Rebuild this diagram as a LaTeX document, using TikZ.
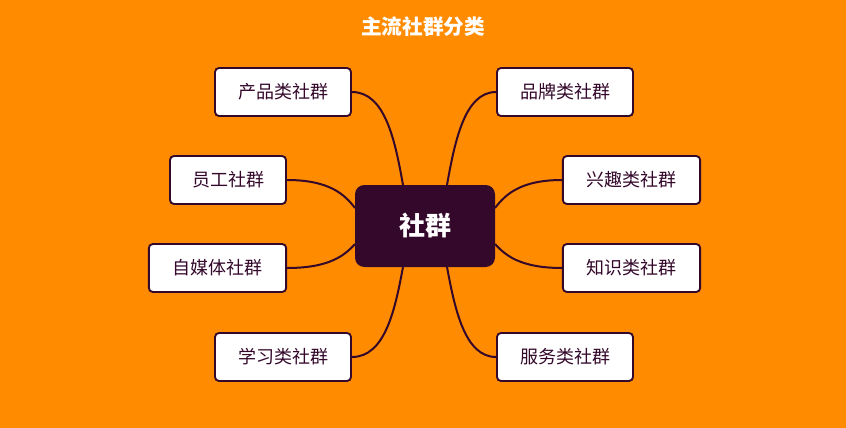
\documentclass[tikz,border=0pt]{standalone}
\usepackage{fontspec}
\setmainfont{Noto Sans CJK SC}
\definecolor{bg}{HTML}{FF8B00}
\definecolor{dk}{HTML}{33082B}
\begin{document}
\begin{tikzpicture}[x=0.75pt,y=-0.75pt,
 leaf/.style={draw=dk,line width=1.4pt,fill=white,rounded corners=3pt,minimum height=36pt,inner sep=0pt,font=\fontsize{13.5pt}{15pt}\selectfont,text=dk},
 link/.style={draw=dk,line width=1.5pt}]
\fill[bg] (0,0) rectangle (846,428);
\node[text=white,font=\bfseries\fontsize{15.5pt}{18pt}\selectfont] (t) at (423,27) {主流社群分类};
\node[fill=dk,rounded corners=7pt,minimum width=105pt,minimum height=61.5pt,text=white,font=\bfseries\fontsize{19.5pt}{22pt}\selectfont] (c) at (425,226) {社群};
\node[leaf,minimum width=102pt] (a1) at (283,92) {产品类社群};
\node[leaf,minimum width=87pt] (a2) at (228,180) {员工社群};
\node[leaf,minimum width=103pt] (a3) at (217.5,268) {自媒体社群};
\node[leaf,minimum width=102pt] (a4) at (283,357) {学习类社群};
\node[leaf,minimum width=102pt] (b1) at (565,92) {品牌类社群};
\node[leaf,minimum width=103pt] (b2) at (631.5,180) {兴趣类社群};
\node[leaf,minimum width=103pt] (b3) at (631.5,268) {知识类社群};
\node[leaf,minimum width=102pt] (b4) at (565,357) {服务类社群};
\coordinate (ct) at (403,185); \coordinate (ctr) at (447,185);
\coordinate (cb) at (403,267); \coordinate (cbr) at (447,267);
\coordinate (cl1) at (355,208); \coordinate (cl2) at (355,244);
\coordinate (cr1) at (495,208); \coordinate (cr2) at (495,244);
\draw[link] (a1.east) .. controls (385,92) and (395,140) .. (ct);
\draw[link] (a4.east) .. controls (385,357) and (395,310) .. (cb);
\draw[link] (b1.west) .. controls (465,92) and (455,140) .. (ctr);
\draw[link] (b4.west) .. controls (465,357) and (455,310) .. (cbr);
\draw[link] (a2.east) .. controls (330,180) and (345,195) .. (cl1);
\draw[link] (a3.east) .. controls (330,268) and (345,255) .. (cl2);
\draw[link] (b2.west) .. controls (520,180) and (505,195) .. (cr1);
\draw[link] (b3.west) .. controls (520,268) and (505,255) .. (cr2);
\end{tikzpicture}
\end{document}
